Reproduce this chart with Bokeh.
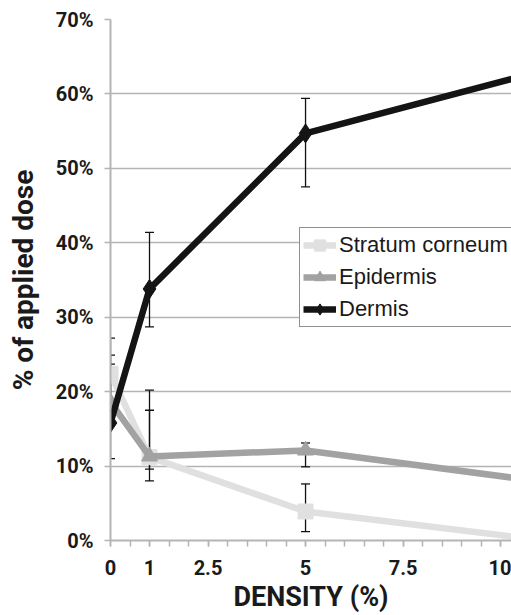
from bokeh.plotting import figure
from bokeh.models import (Range1d, FixedTicker, PrintfTickFormatter, Whisker,
                          ColumnDataSource, TeeHead, Legend, LegendItem)
from bokeh.embed import file_html
from bokeh.resources import INLINE

# ---- data ----
density = [0, 1, 5, 10.5]
stratum = [22.4, 11.2, 3.9, 0.4]
epidermis = [18.6, 11.3, 12.1, 8.3]
dermis = [15.8, 33.8, 54.7, 62.3]

err_x = [0, 1, 5]
stratum_hi = [27.2, 17.5, 7.6]
stratum_lo = [17.6, 8.0, 1.2]
epidermis_hi = [24.9, 20.2, 13.1]
epidermis_lo = [16.5, 9.6, 9.9]
dermis_hi = [23.7, 41.4, 59.4]
dermis_lo = [11.0, 28.7, 47.5]

x_ticks = [0, 1, 2.5, 5, 7.5, 10]
x_tick_labels = ["0", "1", "2.5", "5", "7.5", "10"]
x_minor = [i * 0.5 for i in range(21)]
y_ticks = [0, 10, 20, 30, 40, 50, 60, 70]

series_names = ["Stratum corneum", "Epidermis", "Dermis"]
x_title = "DENSITY (%)"
y_title = "% of applied dose"

X_END = 10.28
p = figure(width=511, height=615, x_range=Range1d(0, X_END), y_range=Range1d(0, 70),
           output_backend="svg", toolbar_location=None,
           min_border_left=110, min_border_right=0, min_border_top=19, min_border_bottom=75)
p.outline_line_color = None
p.background_fill_color = "white"
p.border_fill_color = "white"

GRID = "#b4b4b4"
p.xgrid.visible = False
p.ygrid.grid_line_color = GRID
p.ygrid.grid_line_width = 1.5
p.ygrid.ticker = FixedTicker(ticks=y_ticks)

FONT = "Roboto"
for ax in (p.xaxis[0], p.yaxis[0]):
    ax.axis_line_color = GRID
    ax.axis_line_width = 2
    ax.major_tick_line_color = GRID
    ax.minor_tick_line_color = GRID
    ax.major_tick_line_width = 1.5
    ax.minor_tick_line_width = 1.5
    ax.major_tick_in = 0
    ax.major_tick_out = 6
    ax.minor_tick_in = 0
    ax.minor_tick_out = 6
    ax.major_label_text_font = FONT
    ax.major_label_text_font_style = "bold"
    ax.major_label_text_font_size = "20px"
    ax.major_label_text_color = "#1a1a1a"
    ax.axis_label_text_font = FONT
    ax.axis_label_text_font_style = "bold"
    ax.axis_label_text_color = "#1a1a1a"

p.xaxis[0].ticker = FixedTicker(ticks=x_ticks, minor_ticks=x_minor)
p.xaxis[0].major_label_overrides = {t: l for t, l in zip(x_ticks, x_tick_labels)}
p.xaxis[0].major_label_standoff = 13
p.xaxis[0].major_label_text_line_height = 0.8
p.xaxis[0].axis_label = x_title
p.xaxis[0].axis_label_text_font_size = "27px"
p.xaxis[0].axis_label_text_line_height = 0.8
p.xaxis[0].axis_label_standoff = 3

p.yaxis[0].ticker = FixedTicker(ticks=y_ticks, minor_ticks=[])
p.yaxis[0].formatter = PrintfTickFormatter(format="%d%%")
p.yaxis[0].major_label_standoff = 11
p.yaxis[0].axis_label = y_title
p.yaxis[0].axis_label_text_font_size = "28px"
p.yaxis[0].axis_label_standoff = 13

colors = ["#e0e0e0", "#a2a2a2", "#141414"]
markers = ["square", "triangle", "diamond"]
sizes = [15, 16, 19]
values = [stratum, epidermis, dermis]
his = [stratum_hi, epidermis_hi, dermis_hi]
los = [stratum_lo, epidermis_lo, dermis_lo]

items = []
for name, col, mk, sz, vals, hi, lo in zip(series_names, colors, markers, sizes, values, his, los):
    src = ColumnDataSource(dict(x=density, y=vals))
    ln = p.line("x", "y", source=src, line_color=col, line_width=6.5, line_join="round")
    sc = p.scatter("x", "y", source=src, marker=mk, size=sz, fill_color=col, line_color=col)
    wsrc = ColumnDataSource(dict(base=err_x, upper=hi, lower=lo))
    w = Whisker(source=wsrc, base="base", upper="upper", lower="lower",
                line_color="#111111", line_width=1.3,
                upper_head=TeeHead(size=9, line_color="#111111", line_width=1.3),
                lower_head=TeeHead(size=9, line_color="#111111", line_width=1.3))
    p.add_layout(w)
    items.append(LegendItem(label=name, renderers=[ln, sc]))

legend = Legend(items=items, location=(189, 213))
legend.border_line_color = "#222222"
legend.border_line_width = 1
legend.background_fill_color = "white"
legend.background_fill_alpha = 1
legend.label_text_font = "Liberation Sans"
legend.label_text_font_size = "22px"
legend.label_text_color = "#1a1a1a"
legend.glyph_width = 33
legend.glyph_height = 28
legend.label_height = 28
legend.spacing = 4
legend.padding = 3
legend.margin = 0
legend.label_standoff = 3
p.add_layout(legend)

open("out.html", "w").write(file_html(p, INLINE))
